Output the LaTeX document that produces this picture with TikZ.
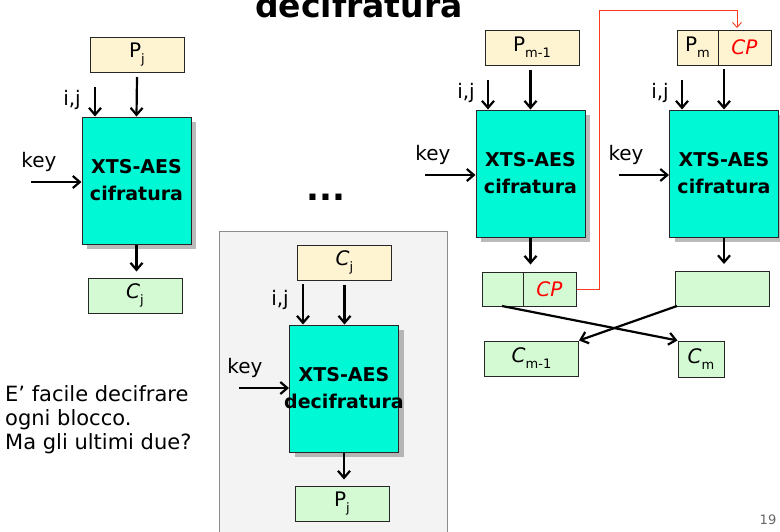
\documentclass[tikz,border=0pt]{standalone}
\usepackage{fontspec}
\setmainfont{DejaVu Sans}
\usetikzlibrary{arrows.meta,shadows,calc}
\definecolor{ylw}{HTML}{FFF4D2}
\definecolor{grn}{HTML}{D4FAD4}
\definecolor{cyn}{HTML}{00F8D4}
\definecolor{panel}{HTML}{F3F3F3}
\definecolor{redl}{HTML}{FF3B1F}
\newcommand{\lo}[1]{\raisebox{-0.55ex}{\fontsize{13}{13}\selectfont #1}}
\tikzset{
  base/.style={draw=black!85, line width=1pt, inner sep=0pt, font=\fontsize{20}{22}\selectfont},
  inb/.style={base, fill=ylw, minimum width=94pt, minimum height=35pt},
  outb/.style={base, fill=grn, minimum width=94pt, minimum height=35pt},
  aes/.style={base, fill=cyn, minimum width=109pt, minimum height=127pt, align=center,
     font=\fontsize{19}{27}\selectfont\bfseries,
     drop shadow={shadow xshift=5pt, shadow yshift=-5pt, fill=black!45, opacity=0.6}},
  arr/.style={line width=2.2pt, -{Straight Barb[length=7pt,width=12pt,line width=2.2pt]}},
  redarr/.style={draw=redl, line width=0.9pt, -{Straight Barb[length=5pt,width=9pt]}},
  lbl/.style={font=\fontsize{20}{22}\selectfont, inner sep=0pt},
}
\begin{document}
\begin{tikzpicture}[x=1pt,y=-1pt]
\useasboundingbox (0,0) rectangle (780,531);
\fill[white] (0,0) rectangle (780,531);

% title
\node[anchor=base west, inner sep=0pt, font=\fontsize{33}{33}\selectfont\bfseries] (title) at (255,17) {decifratura};

% left column
\node[inb] (p1) at (137,55) {P\lo{j}};
\node[aes] (e1) at (136.5,180.5) {XTS-AES\\cifratura};
\node[outb] (c1) at (135,295.5) {\textit{C}\lo{j}};
\coordinate (ij1) at (95,87);
\coordinate (k1) at (31,182);
\node[lbl] (ijl1) at (72,100) {i,j};
\node[lbl] (kl1) at (39,162) {key};
\draw[arr] ([yshift=-4pt]p1.south) -- (e1.north);
\draw[arr] (ij1) -- (ij1 |- e1.north);
\draw[arr] (k1) -- (k1 -| e1.west);
\draw[arr] (e1.south) -- ([yshift=6pt]e1.south |- c1.north);

% dots
\node[anchor=base, inner sep=0pt, font=\fontsize{34}{34}\selectfont\bfseries] (dots) at (326,200) {...};

% gray panel
\draw[draw=black!45, fill=panel, line width=0.8pt] (219,231) rectangle (447,540);
\node[inb] (c2) at (344.5,262.5) {\textit{C}\lo{j}};
\node[aes] (e2) at (344,388.5) {XTS-AES\\\makebox[0pt]{decifratura}};
\node[outb] (p2) at (342,503.5) {P\lo{j}};
\coordinate (ij2) at (303,284);
\coordinate (k2) at (239,388);
\node[lbl] (ijl2) at (280,300) {i,j};
\node[lbl] (kl2) at (245,368) {key};
\draw[arr] ([yshift=-4pt]c2.south) -- (c2.south |- e2.north);
\draw[arr] (ij2) -- (ij2 |- e2.north);
\draw[arr] (k2) -- (k2 -| e2.west);
\draw[arr] (e2.south) -- ([yshift=6pt]e2.south |- p2.north);

% right column 1
\node[inb] (p3) at (532,47.5) {P\lo{m-1}};
\node[aes] (e3) at (530.5,173.5) {XTS-AES\\cifratura};
\node[base, fill=grn, minimum width=41pt, minimum height=34pt] (o3a) at (502.5,289) {};
\node[base, fill=grn, minimum width=53pt, minimum height=34pt, text=red] (o3b) at (549.5,289) {\textit{CP}};
\coordinate (ij3) at (488,80);
\coordinate (k3) at (425,175);
\node[lbl] (ijl3) at (466,93) {i,j};
\node[lbl] (kl3) at (433,155) {key};
\draw[arr] ([yshift=-4pt]p3.south -| e3.north) -- (e3.north);
\draw[arr] (ij3) -- (ij3 |- e3.north);
\draw[arr] (k3) -- (k3 -| e3.west);
\draw[arr] (e3.south) -- ([yshift=7pt]e3.south |- o3a.north);

% right column 2
\node[base, fill=ylw, minimum width=41pt, minimum height=35pt] (pm4) at (697.5,47.5) {P\lo{m}};
\node[base, fill=ylw, minimum width=53pt, minimum height=35pt, text=red] (cp4) at (744.5,47.5) {\textit{CP}};
\node[aes] (e4) at (724,173.5) {XTS-AES\\cifratura};
\node[outb] (o4) at (722,289) {};
\coordinate (ij4) at (682,80);
\coordinate (k4) at (619,175);
\coordinate (pin4) at (724,69);
\node[lbl] (ijl4) at (660,93) {i,j};
\node[lbl] (kl4) at (626,155) {key};
\draw[arr] (pin4) -- (pin4 |- e4.north);
\draw[arr] (ij4) -- (ij4 |- e4.north);
\draw[arr] (k4) -- (k4 -| e4.west);
\draw[arr] (e4.south) -- ([yshift=7pt]e4.south |- o4.north);

% red connector
\coordinate (r1) at (599,10);
\coordinate (r2) at (737,28);
\draw[redarr] (o3b.east) -| (r1) -| (r2);

% bottom outputs
\node[outb] (cm1) at (531.5,358.5) {\textit{C}\lo{m-1}};
\node[base, fill=grn, minimum width=46pt, minimum height=36pt] (cm) at (701,359) {\textit{C}\lo{m}};
\coordinate (s3) at (502,306);
\coordinate (s4) at (677,306);
\draw[arr] (s3) -- (cm.north west);
\draw[arr] (s4) -- (cm1.north east);

% side text
\node[anchor=north west, align=left, inner sep=0pt, font=\fontsize{21}{24}\selectfont] (txt) at (5,385) {E’ facile decifrare\\ogni blocco.\\Ma gli ultimi due?};

% page number
\node[font=\fontsize{13}{13}\selectfont, text=black!60, inner sep=0pt] (pg) at (768,520) {19};
\end{tikzpicture}
\end{document}
